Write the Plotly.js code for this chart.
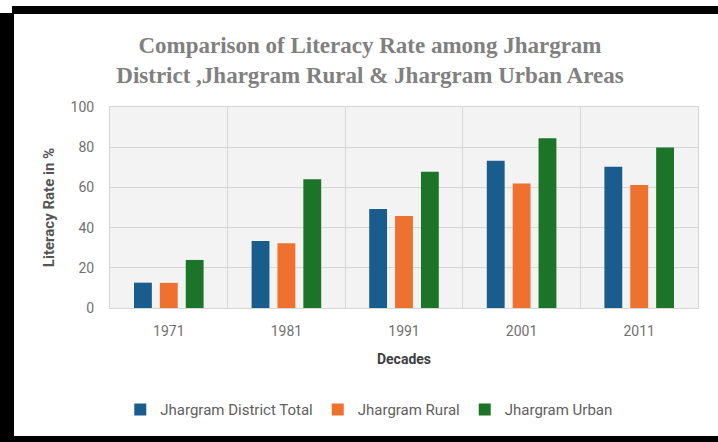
<!DOCTYPE html>
<html>
<head>
<meta charset="utf-8">
<script src="https://cdn.plot.ly/plotly-3.0.1.min.js"></script>
<style>
  html, body { margin: 0; padding: 0; background: #ffffff; overflow: hidden; width: 718px; height: 442px; }
  .bar { position: absolute; background: #000; }
  #chart { position: absolute; left: 14px; top: 14px; width: 698px; height: 422px; }
</style>
</head>
<body>
<div class="bar" style="left:12px; top:6px; width:706px; height:8px;"></div>
<div class="bar" style="left:0px; top:13px; width:14px; height:429px;"></div>
<div class="bar" style="left:0px; top:436px; width:718px; height:6px;"></div>
<div id="chart"></div>
<script>
const decades = ["1971", "1981", "1991", "2001", "2011"];
const districtTotal = [12.6, 33.3, 49.3, 73.3, 70.3];
const rural = [12.5, 32.2, 45.8, 62.0, 61.2];
const urban = [23.9, 64.0, 67.8, 84.4, 79.9];
const seriesNames = ["Jhargram District Total", "Jhargram Rural", "Jhargram Urban"];
const colors = ["#185d8b", "#ef7130", "#1c7428"];

const textFont = "Roboto, 'DejaVu Sans', sans-serif";
const values = [districtTotal, rural, urban];
const traces = values.map((v, i) => ({
  type: "bar",
  name: seriesNames[i],
  x: decades,
  y: v,
  marker: { color: colors[i] },
  hoverinfo: "x+y+name"
}));

const layout = {
  width: 698, height: 422,
  margin: { l: 96, r: 14, t: 93, b: 128 },
  paper_bgcolor: "#ffffff",
  plot_bgcolor: "#f3f3f3",
  barmode: "group",
  bargap: 0.34,
  bargroupgap: 0.31,
  title: {
    text: "Comparison of Literacy Rate among Jhargram<br>District ,Jhargram Rural &amp; Jhargram Urban Areas",
    font: { family: "'Liberation Serif', 'Times New Roman', serif", size: 23, color: "#808080", weight: "bold" },
    x: 0.510, xref: "container", xanchor: "center",
    y: 0.908, yref: "container", yanchor: "middle"
  },
  xaxis: {
    type: "category",
    tickson: "boundaries",
    showgrid: true, gridcolor: "#d6d6d6", gridwidth: 1,
    showline: true, linecolor: "#d6d6d6", mirror: true,
    ticks: "", ticklen: 0,
    ticklabelstandoff: 10,
    tickfont: { family: textFont, size: 14, color: "#707070" },
    title: { text: "Decades", font: { family: textFont, size: 14, color: "#404040", weight: "bold" }, standoff: 16 }
  },
  yaxis: {
    range: [0, 100], tickvals: [0, 20, 40, 60, 80, 100],
    showgrid: true, gridcolor: "#d6d6d6", gridwidth: 1,
    showline: true, linecolor: "#d6d6d6", mirror: true,
    zeroline: false,
    ticks: "",
    ticklabelstandoff: 12,
    tickfont: { family: textFont, size: 14, color: "#707070" },
    title: { text: "Literacy Rate in %", font: { family: textFont, size: 15, color: "#555555", weight: "bold" }, standoff: 12 }
  },
  legend: {
    orientation: "h",
    x: 0.509, xanchor: "center", xref: "container",
    y: 0.062, yanchor: "middle", yref: "container",
    font: { family: textFont, size: 15, color: "#606060" },
    itemwidth: 30,
    traceorder: "normal"
  },
  showlegend: true
};

Plotly.newPlot("chart", traces, layout, { displayModeBar: false, staticPlot: true });
</script>
</body>
</html>
